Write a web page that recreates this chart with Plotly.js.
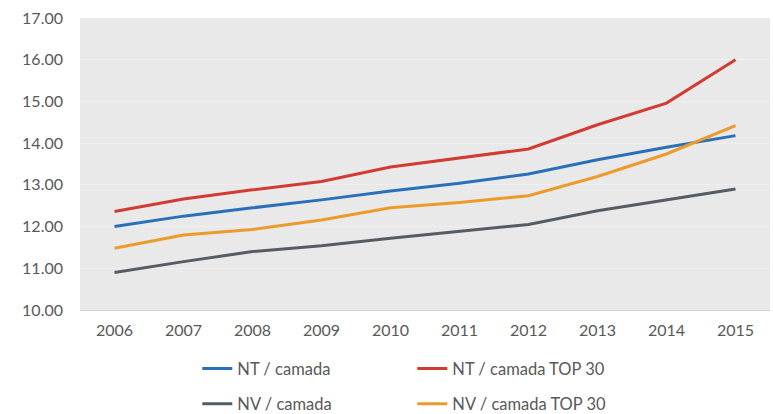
<!DOCTYPE html>
<html>
<head>
<meta charset="utf-8">
<script src="https://cdn.plot.ly/plotly-3.0.1.min.js"></script>
<style>html,body{margin:0;padding:0;background:#fff;}#chart{width:773px;height:414px;}</style>
</head>
<body>
<div id="chart"></div>
<script>
const years = ['2006','2007','2008','2009','2010','2011','2012','2013','2014','2015'];
const ntCamada = [12.00, 12.25, 12.45, 12.64, 12.85, 13.04, 13.26, 13.60, 13.90, 14.18];
const ntCamadaTop30 = [12.36, 12.66, 12.88, 13.08, 13.43, 13.64, 13.86, 14.44, 14.96, 16.00];
const nvCamada = [10.90, 11.16, 11.40, 11.54, 11.72, 11.88, 12.05, 12.38, 12.64, 12.90];
const nvCamadaTop30 = [11.48, 11.80, 11.93, 12.16, 12.45, 12.58, 12.74, 13.20, 13.74, 14.42];
const yTicks = [10, 11, 12, 13, 14, 15, 16, 17];

const names = ['NT / camada', 'NT / camada TOP 30', 'NV / camada', 'NV / camada TOP 30'];
const series = [ntCamada, ntCamadaTop30, nvCamada, nvCamadaTop30];
const colors = ['#2a70b8', '#d23b31', '#555c63', '#ec9b2b'];
const legendIds = ['legend', 'legend', 'legend2', 'legend2'];

const traces = series.map((vals, i) => ({
  type: 'scatter', mode: 'lines', x: years, y: vals, name: names[i],
  line: {color: colors[i], width: 3}, legend: legendIds[i]
}));

const font = {family: 'Lato, "Open Sans", sans-serif', size: 16, color: '#595959'};
const legFont = {family: 'Lato, "Open Sans", sans-serif', size: 16.5, color: '#595959'};
const legendBase = {orientation: 'h', x: 0.17, xanchor: 'left', yanchor: 'middle', yref: 'container',
  entrywidth: 170, font: legFont, bgcolor: 'rgba(0,0,0,0)'};

const layout = {
  width: 773, height: 414,
  margin: {l: 80, r: 3, t: 18, b: 104},
  paper_bgcolor: '#ffffff', plot_bgcolor: '#e9e9e9',
  font: font, showlegend: true,
  xaxis: {type: 'category', range: [-0.5, 9.5], showgrid: false, showline: true, linecolor: '#d2d2d2', linewidth: 1,
    ticks: '', tickfont: font, zeroline: false, ticklabelstandoff: 6, automargin: false},
  yaxis: {range: [10, 17], tickvals: yTicks, tickformat: '.2f', showgrid: true, gridcolor: '#efefef',
    gridwidth: 1, zeroline: false, ticks: '', tickfont: font, ticklabelstandoff: 16, automargin: false},
  legend: Object.assign({}, legendBase, {y: 0.109}),
  legend2: Object.assign({}, legendBase, {y: 0.024})
};

Plotly.newPlot('chart', traces, layout, {displayModeBar: false, staticPlot: true});
</script>
</body>
</html>
